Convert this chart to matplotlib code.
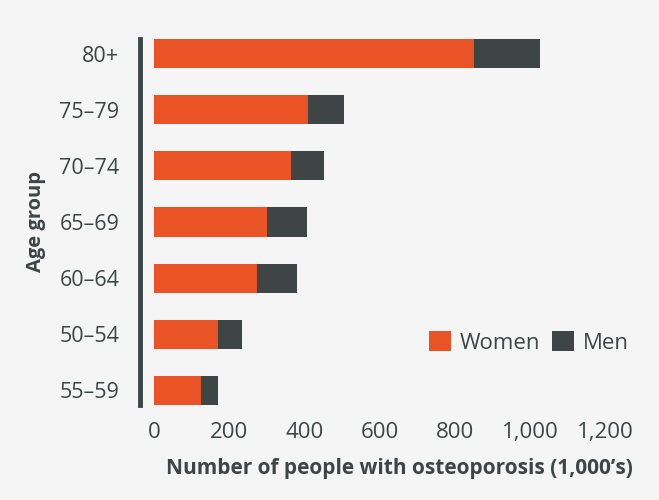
import numpy as np
import matplotlib.pyplot as plt

ages = ["80+", "75–79", "70–74", "65–69", "60–64", "50–54", "55–59"]
women = [850, 409, 364, 300, 273, 170, 125]
men = [175, 95, 87, 106, 107, 64, 45]

bg = "#f5f5f5"
orange = "#e95325"
grey = "#3f4545"

plt.rcParams['font.family'] = ['Open Sans', 'DejaVu Sans']

fig = plt.figure(figsize=(6.59, 5), dpi=100, facecolor=bg)
ax = fig.add_axes([0.2125, 0.19, 0.735, 0.732])
ax.set_facecolor(bg)

y = np.arange(len(ages))
ax.barh(y, women, height=0.52, color=orange, label="Women")
ax.barh(y, men, left=women, height=0.52, color=grey, label="Men")

ax.set_ylim(len(ages) - 1 + 0.26, -0.26)
ax.set_xlim(-37, 1250)
ax.set_yticks(y)
ax.set_yticklabels(ages)
ax.set_xticks([0, 200, 400, 600, 800, 1000, 1200])
ax.set_xticklabels(["0", "200", "400", "600", "800", "1,000", "1,200"])
ax.tick_params(length=0, labelsize=16, colors=grey, pad=12)
ax.tick_params(axis='y', labelsize=15.5, pad=15)

for s in ["top", "right", "bottom"]:
    ax.spines[s].set_visible(False)
ax.spines["left"].set_linewidth(3.5)
ax.spines["left"].set_color(grey)

ax.set_xlabel("Number of people with osteoporosis (1,000’s)", fontsize=15,
              fontweight="bold", color=grey)
ax.xaxis.set_label_coords(0.535, -0.145)
ax.set_ylabel("Age group", fontsize=14.5, fontweight="bold", color=grey)
ax.yaxis.set_label_coords(-0.195, 0.5)

ax.legend(loc="lower right", bbox_to_anchor=(1.05, 0.085), ncol=2, frameon=False,
          fontsize=16, handlelength=1.0, handleheight=1.0, handletextpad=0.4,
          columnspacing=0.5, labelcolor=grey)

fig.savefig("out.png", dpi=100, facecolor=bg)
